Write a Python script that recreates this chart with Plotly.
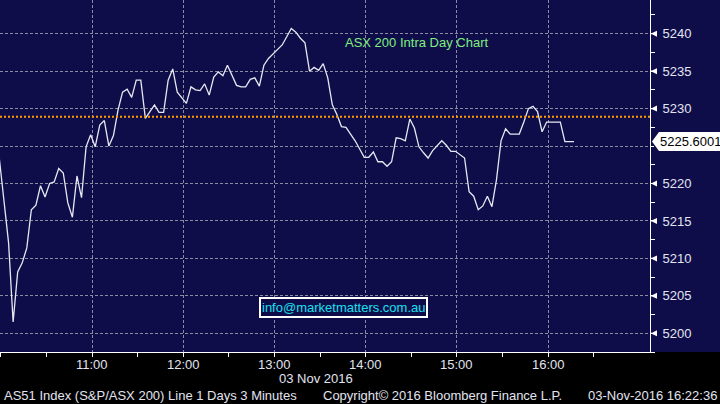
import plotly.graph_objects as go
import pandas as pd

# 3-minute bars, AS51 intraday 03 Nov 2016 (first bar just before the left edge)
start_time = "2016-11-03 09:59:06"
prices = [
    5223.2, 5217.4, 5212.1, 5201.5, 5208.2, 5209.4, 5211.4, 5216.5, 5217.1, 5219.7,
    5218.2, 5220.0, 5220.2, 5222.0, 5221.4, 5217.4, 5215.5, 5221.0, 5218.1, 5224.9,
    5226.5, 5224.9, 5227.8, 5228.4, 5225.0, 5226.4, 5229.8, 5232.2, 5232.6, 5231.5,
    5233.8, 5233.8, 5228.7, 5229.6, 5230.5, 5229.5, 5229.5, 5233.8, 5235.3, 5232.2,
    5231.4, 5230.7, 5232.9, 5232.5, 5232.4, 5233.3, 5231.8, 5234.2, 5234.9, 5234.4,
    5235.8, 5234.5, 5233.1, 5232.9, 5232.9, 5233.9, 5234.1, 5233.0, 5235.8, 5236.7,
    5237.3, 5237.9, 5238.5, 5239.6, 5240.7, 5240.2, 5239.4, 5238.8, 5235.0, 5235.5,
    5235.1, 5236.0, 5234.1, 5230.5, 5229.2, 5227.6, 5227.5, 5226.6, 5225.7, 5224.6,
    5223.5, 5223.5, 5224.2, 5222.9, 5222.9, 5222.3, 5222.9, 5226.1, 5226.0, 5225.7,
    5228.6, 5227.4, 5224.9, 5224.1, 5223.4, 5224.4, 5225.1, 5225.7, 5225.1, 5224.3,
    5224.3, 5223.9, 5223.4, 5218.9, 5218.3, 5216.5, 5217.0, 5218.3, 5216.9, 5220.5,
    5225.7, 5227.3, 5226.6, 5226.6, 5226.6, 5228.2, 5230.0, 5230.3, 5229.6, 5226.9,
    5228.2, 5228.2, 5228.2, 5228.2, 5225.6, 5225.6, 5225.6,
]
times = pd.date_range(start_time, periods=len(prices), freq="3min")

prev_close = 5228.9
last_label = "5225.6001"
last_price = 5225.6
hour_ticks = ["10:00", "11:00", "12:00", "13:00", "14:00", "15:00", "16:00"]
half_ticks = ["10:00", "10:30", "11:30", "12:30", "13:30", "14:30", "15:30", "16:30"]
y_ticks = [5200, 5205, 5210, 5215, 5220, 5225, 5230, 5235, 5240]
y_minor = [5197.5, 5202.5, 5207.5, 5212.5, 5217.5, 5222.5, 5227.5, 5232.5, 5237.5, 5242.5]

NAVY = "#0f0d49"
GRID = "#8c8ca0"
TXT = "#e2e4f0"
FONT = "Liberation Sans"
day = "2016-11-03 "

fig = go.Figure()
fig.add_trace(go.Scatter(x=times, y=prices, mode="lines",
                         line=dict(color="#e8e8f2", width=1.3),
                         hoverinfo="skip", showlegend=False))

# the 5225 label sits under the last-price tag in the original
y_text = ["" if v == 5225 else str(v) for v in y_ticks]

fig.update_layout(
    width=720, height=404,
    margin=dict(l=0, r=70, t=0, b=52),
    paper_bgcolor="black", plot_bgcolor=NAVY,
    font=dict(family=FONT, size=13, color=TXT),
    xaxis=dict(
        type="date",
        range=[day + "09:59:28", day + "17:07:06"],
        tickvals=[day + t for t in hour_ticks],
        showticklabels=False,
        showgrid=True, gridcolor=GRID, griddash="3px,2px", gridwidth=1,
        showline=True, linecolor="white", linewidth=1,
        ticks="outside", ticklen=4, tickcolor="white",
        minor=dict(tickvals=[day + t for t in half_ticks], ticks="outside",
                   ticklen=4, tickcolor="white", showgrid=False),
        zeroline=False, fixedrange=True, automargin=False,
    ),
    yaxis=dict(
        side="right",
        range=[5197.5, 5244.5],
        tickvals=y_ticks, ticktext=y_text,
        showgrid=True, gridcolor=GRID, griddash="3px,2px", gridwidth=1,
        showline=True, linecolor="white", linewidth=1,
        ticks="outside", ticklen=3, tickcolor="white",
        ticklabelstandoff=6,
        tickfont=dict(size=13, color=TXT),
        minor=dict(tickvals=y_minor, ticks="outside", ticklen=4,
                   tickcolor="white", showgrid=False),
        zeroline=False, fixedrange=True, automargin=False,
    ),
)

shapes = [
    # navy area to the right of the price axis
    dict(type="rect", xref="paper", yref="paper", x0=1.0, x1=1.2, y0=0, y1=1,
         fillcolor=NAVY, line=dict(width=0), layer="below"),
    # previous close
    dict(type="line", xref="paper", yref="y", x0=0, x1=1, y0=prev_close, y1=prev_close,
         line=dict(color="#ff9c00", width=2, dash="2px,2px")),
    # last price tag
    dict(type="path", xref="paper", yref="y", xsizemode="pixel", ysizemode="pixel",
         xanchor=1.0, yanchor=last_price,
         path="M 2 0 L 9 9.5 L 70 9.5 L 70 -9.5 L 9 -9.5 Z",
         fillcolor="white", line=dict(width=0)),
]
# small pointer marks at each labelled price tick
for v in y_ticks:
    if v == 5225:
        continue
    shapes.append(dict(type="path", xref="paper", yref="y", xsizemode="pixel",
                       ysizemode="pixel", xanchor=1.0, yanchor=v,
                       path="M 0 -0.6 L 0 0.6 L 2 0.6 L 7 3 L 7 -3 L 2 -0.6 Z",
                       fillcolor="white", line=dict(width=0)))
fig.update_layout(shapes=shapes)

ann = [
    dict(text="ASX 200 Intra Day Chart", x=0.6408, y=1 - 42 / 352, xref="paper", yref="paper",
         xanchor="center", yanchor="middle", showarrow=False,
         font=dict(size=13, color="#7fee7f")),
    dict(text="info@marketmatters.com.au", x=0.5285, y=1 - 307.5 / 352, xref="paper",
         yref="paper", xanchor="center", yanchor="middle", showarrow=False,
         font=dict(size=13, color="#19e0f0"),
         bgcolor=NAVY, bordercolor="white", borderwidth=2, borderpad=1),
    dict(text=last_label, x=1.0, y=last_price, xref="paper", yref="y", xanchor="left",
         yanchor="middle", xshift=8, showarrow=False, font=dict(size=13, color="black")),
    dict(text="03 Nov 2016", x=316 / 650, y=1 - 378 / 352, xref="paper", yref="paper",
         xanchor="center", yanchor="middle", showarrow=False, font=dict(size=13, color=TXT)),
    dict(text="AS51 Index (S&P/ASX 200) Line 1 Days 3 Minutes", x=2 / 650, y=1 - 395 / 352,
         xref="paper", yref="paper", xanchor="left", yanchor="middle", showarrow=False,
         font=dict(size=13, color=TXT)),
    dict(text="Copyright\u00a9 2016 Bloomberg Finance L.P.", x=321 / 650, y=1 - 395 / 352,
         xref="paper", yref="paper", xanchor="left", yanchor="middle", showarrow=False,
         font=dict(size=13, color=TXT)),
    dict(text="03-Nov-2016 16:22:36", x=719 / 650, y=1 - 395 / 352,
         xref="paper", yref="paper", xanchor="right", yanchor="middle", showarrow=False,
         font=dict(size=13, color=TXT)),
]
# hour labels under the time axis
for t in hour_ticks[1:]:
    ann.append(dict(text=t, x=day + t, y=0, xref="x", yref="paper", xanchor="center",
                    yanchor="top", yshift=-3, showarrow=False,
                    font=dict(size=13, color=TXT)))
fig.update_layout(annotations=ann)

fig.write_html("out.html", config={"displayModeBar": False},
               post_script="document.body.style.margin='0px';")
